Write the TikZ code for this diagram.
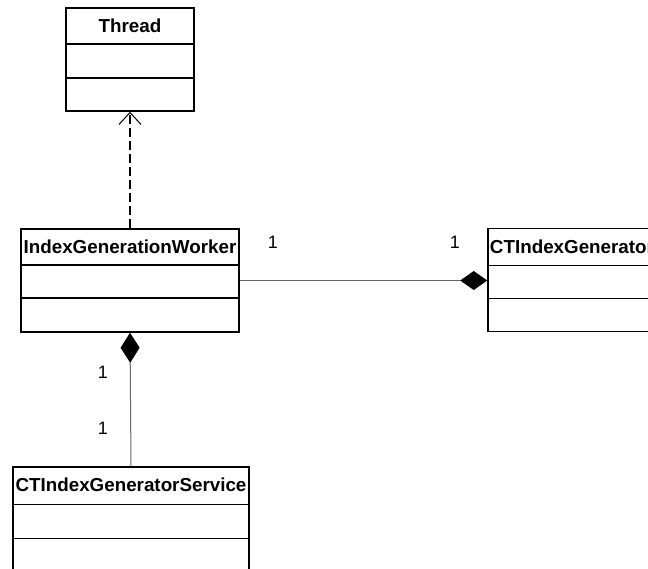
\documentclass[tikz,border=0pt]{standalone}
\usepackage{fontspec}
\setmainfont{Liberation Sans}
\usetikzlibrary{arrows.meta,calc}
\begin{document}
\begin{tikzpicture}[x=1pt,y=-1pt,
  classbox/.style={draw, line width=1.5pt, inner sep=0pt, minimum width=#1, minimum height=103},
  classname/.style={inner sep=0pt, font=\bfseries\fontsize{18.8}{20}\selectfont},
  divider/.style={line width=1.5pt},
  mult/.style={inner sep=0pt, font=\fontsize{18}{20}\selectfont},
  assoc/.style={line width=1pt, draw=black!60},
  composition/.style={assoc, -{Diamond[length=#1, width=19, fill=black, color=black]}},
  realize/.style={line width=2pt, dash pattern=on 9pt off 4pt,
    -{Straight Barb[length=12, width=22, line width=1pt]}}]
\path[use as bounding box, clip] (0,0) rectangle (648,569);
\fill[white] (0,0) rectangle (648,569);

% Thread
\node[classbox=128] (thread) at (130,59.5) {};
\node[classname] (threadname) at ($(thread.north)+(0,18.5)$) {Thread};
\draw[divider] ($(thread.north west)+(0,37)$) -- ($(thread.north east)+(0,37)$);
\draw[divider] ($(thread.north west)+(0,71)$) -- ($(thread.north east)+(0,71)$);

% IndexGenerationWorker
\node[classbox=218] (worker) at (130,280.5) {};
\node[classname] (workername) at ($(worker.north)+(0,18.5)$) {IndexGenerationWorker};
\draw[divider] ($(worker.north west)+(0,37)$) -- ($(worker.north east)+(0,37)$);
\draw[divider] ($(worker.north west)+(0,70)$) -- ($(worker.north east)+(0,70)$);

% CTIndexGenerator (runs past the right edge)
\node[classbox=168] (gen) at (572,280) {};
\node[classname] (genname) at ($(gen.north)+(0,19)$) {CTIndexGenerator};
\draw[divider] ($(gen.north west)+(0,38)$) -- ($(gen.north east)+(0,38)$);
\draw[divider] ($(gen.north west)+(0,71)$) -- ($(gen.north east)+(0,71)$);

% CTIndexGeneratorService (runs past the bottom edge)
\node[classbox=236] (service) at (131,518.5) {};
\node[classname] (servicename) at ($(service.north)+(0,19)$) {CTIndexGeneratorService};
\draw[divider] ($(service.north west)+(0,38)$) -- ($(service.north east)+(0,38)$);
\draw[divider] ($(service.north west)+(0,72)$) -- ($(service.north east)+(0,72)$);

% relations
\draw[realize] (worker.north) -- (thread.south);
\draw[composition=27] (worker.east) -- (worker.east -| gen.west);
\draw[composition=30] (service.north) -- (worker.south);

% multiplicities
\node[mult] (m1) at (273,242) {1};
\node[mult] (m2) at (455,242) {1};
\node[mult] (m3) at (103,372) {1};
\node[mult] (m4) at (103,428) {1};
\end{tikzpicture}
\end{document}
